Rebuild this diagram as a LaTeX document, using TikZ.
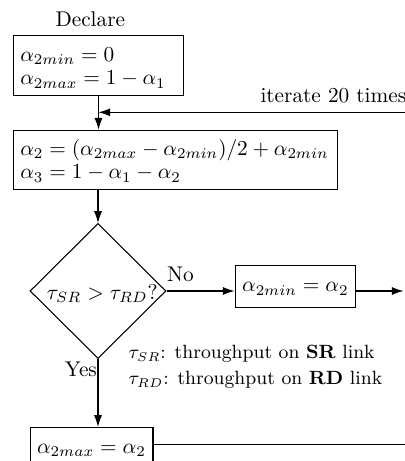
\documentclass[tikz,border=0pt]{standalone}
\usetikzlibrary{shapes.geometric,arrows.meta}
\begin{document}
\begin{tikzpicture}[x=0.4695pt,y=-0.4695pt,
  line width=0.5pt,
  box/.style={draw, rectangle, inner sep=3.33pt},
  lbl/.style={inner sep=0pt},
  arr/.style={-{Latex[length=5.5pt,width=3.8pt]}},
  decision/.style={draw, diamond, inner sep=0pt, minimum width=63.85pt, minimum height=63.4pt}]
\useasboundingbox (0,0) rectangle (404,461);
% nodes
\node[lbl, anchor=base west] (declare) at (55,26.7) {Declare};
\node[box, anchor=north west, text width=73.4pt, align=left] (init) at (12.7,34.7)
  {\rule{0pt}{9pt}$\alpha_{2min}=0$\\[-1pt]$\alpha_{2max}=1-\alpha_1$};
\node[box, anchor=north west, text width=145.4pt, align=left] (calc) at (12.7,129.7)
  {\rule{0pt}{8.5pt}$\alpha_2=(\alpha_{2max}-\alpha_{2min})/2+\alpha_{2min}$\\[-1pt]$\alpha_3=1-\alpha_1-\alpha_2$};
\node[decision] (dec) at (98,291) {};
\node[lbl, xshift=2pt, yshift=-1pt] (dectext) at (dec.center) {$\tau_{SR}>\tau_{RD}$?};
\node[box, minimum height=19.7pt, anchor=west] (upmin) at (234.5,286.7) {\strut$\alpha_{2min}=\alpha_2$};
\node[box, minimum height=19.7pt, anchor=north west] (upmax) at (29.5,426.9) {\strut$\alpha_{2max}=\alpha_2$};
\node[lbl, anchor=base west] (iter) at (260,102.7) {iterate 20 times};
\node[lbl, anchor=base west] (no) at (166.7,281.7) {No};
\node[lbl, anchor=base west] (yes) at (64.3,376.7) {Yes};
\node[lbl, anchor=north west, align=left, font=\small] (legend) at (128,345)
  {$\tau_{SR}$: throughput on \textbf{SR} link\\[1.2pt]$\tau_{RD}$: throughput on \textbf{RD} link};
\coordinate (fbR) at (412,112.3);
\coordinate (outR) at (403.5,291);
\coordinate (outB) at (412,444.5);
% connectors
\draw[arr] (init.south) -- (init.south |- calc.north);
\draw[arr] (fbR) -- (fbR -| init.south);
\draw[arr] (calc.south -| dec.north) -- (dec.north);
\draw[arr] (dec.east) -- (dec.east -| upmin.west);
\draw[arr] (upmin.east |- dec.east) -- (outR);
\draw[arr] (dec.south) -- (dec.south |- upmax.north);
\draw (upmax.east |- outB) -- (outB);
\end{tikzpicture}
\end{document}
